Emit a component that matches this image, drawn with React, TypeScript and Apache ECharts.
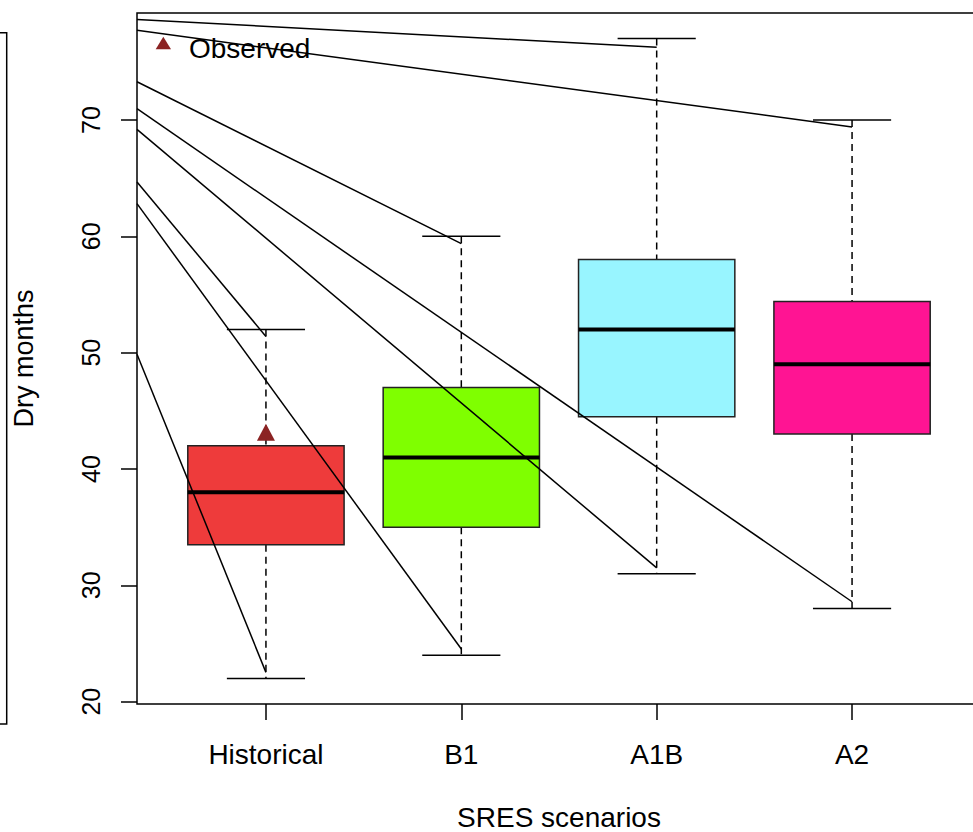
import React, { useEffect, useRef } from 'react';
import * as echarts from 'echarts';

const categories = ['Historical', 'B1', 'A1B', 'A2'];
const whiskerLow = [22, 24, 31, 28];
const q1 = [33.5, 35, 44.5, 43];
const median = [38, 41, 52, 49];
const q3 = [42, 47, 58, 54.4];
const whiskerHigh = [52, 60, 77, 70];
const boxColors = ['#EE3B3B', '#7FFF00', '#98F5FF', '#FF1493'];
const observedValue = [[1, 43.15]];
const yTicks = [20, 30, 40, 50, 60, 70];
const xTicks = [1, 2, 3, 4];
// annotation segments: start at left plot edge, end near a whisker end
const lineFromY = [78.65, 77.71, 73.29, 70.97, 69.2, 64.67, 62.81, 49.87];
const lineToX = [3, 4, 2, 4, 3, 1, 2, 1];
const lineToY = [76.25, 69.4, 59.37, 28.59, 31.5, 51.4, 24.53, 22.52];

const X_MIN = 0.34;
const X_MAX = 4.66;
const Y_MIN = 19.8;
const Y_MAX = 79.2;
const FONT = 'Liberation Sans, Arial, Helvetica, sans-serif';
const OBS_COLOR = '#8B2323';

export default function App() {
  const ref = useRef<HTMLDivElement>(null);
  useEffect(() => {
    if (!ref.current) return;
    const chart = echarts.init(ref.current, null, { renderer: 'svg' });
    const boxData = categories.map((_, i) => [
      i + 1,
      whiskerLow[i],
      q1[i],
      median[i],
      q3[i],
      whiskerHigh[i],
    ]);
    const segs = lineFromY.map((y0, i) => ({
      coords: [
        [X_MIN, y0],
        [lineToX[i], lineToY[i]],
      ],
    }));
    chart.setOption({
      animation: false,
      backgroundColor: '#fff',
      textStyle: { fontFamily: FONT, color: '#000' },
      grid: {
        left: 137,
        top: 13,
        bottom: 128,
        right: -8,
        containLabel: false,
        outerBoundsMode: 'none',
        show: true,
        borderColor: '#000',
        borderWidth: 1.5,
        backgroundColor: 'transparent',
      },
      xAxis: {
        type: 'value',
        min: X_MIN,
        max: X_MAX,
        name: 'SRES scenarios',
        nameLocation: 'middle',
        nameGap: 101,
        nameTextStyle: { fontFamily: FONT, fontSize: 28, lineHeight: 24, color: '#000' },
        axisLine: { show: false },
        splitLine: { show: false },
        axisTick: {
          show: true,
          length: 16,
          customValues: xTicks,
          lineStyle: { color: '#000', width: 1.5 },
        },
        axisLabel: {
          customValues: xTicks,
          margin: 36,
          fontFamily: FONT,
          fontSize: 28,
          color: '#000',
          formatter: (v: number) => categories[Math.round(v) - 1] ?? '',
        },
      },
      yAxis: {
        type: 'value',
        min: Y_MIN,
        max: Y_MAX,
        name: 'Dry months',
        nameLocation: 'middle',
        nameGap: 100,
        nameRotate: 90,
        nameTextStyle: { fontFamily: FONT, fontSize: 27, color: '#000' },
        axisLine: { show: false },
        splitLine: { show: false },
        axisTick: {
          show: true,
          length: 16,
          customValues: yTicks,
          lineStyle: { color: '#000', width: 1.5 },
        },
        axisLabel: {
          customValues: yTicks,
          rotate: 90,
          margin: 34,
          fontFamily: FONT,
          fontSize: 25,
          color: '#000',
        },
      },
      series: [
        {
          type: 'custom',
          name: 'boxes',
          data: boxData,
          encode: { x: 0, y: [1, 2, 3, 4, 5] },
          z: 2,
          renderItem: (params: any, api: any) => {
            const x = api.value(0);
            const lo = api.value(1);
            const a = api.value(2);
            const m = api.value(3);
            const b = api.value(4);
            const hi = api.value(5);
            const color = boxColors[params.dataIndex];
            const c = (xx: number, yy: number) => api.coord([xx, yy]);
            const pHi = c(x, hi);
            const pB = c(x, b);
            const pA = c(x, a);
            const pLo = c(x, lo);
            const capHL = c(x - 0.2, hi);
            const capHR = c(x + 0.2, hi);
            const capLL = c(x - 0.2, lo);
            const capLR = c(x + 0.2, lo);
            const boxTL = c(x - 0.4, b);
            const boxBR = c(x + 0.4, a);
            const medL = c(x - 0.4, m);
            const medR = c(x + 0.4, m);
            const dash = { stroke: '#000', lineWidth: 1.5, lineDash: [7, 5] };
            const solid = { stroke: '#000', lineWidth: 1.5 };
            return {
              type: 'group',
              children: [
                { type: 'line', shape: { x1: pHi[0], y1: pHi[1], x2: pB[0], y2: pB[1] }, style: dash },
                { type: 'line', shape: { x1: pA[0], y1: pA[1], x2: pLo[0], y2: pLo[1] }, style: dash },
                { type: 'line', shape: { x1: capHL[0], y1: capHL[1], x2: capHR[0], y2: capHR[1] }, style: solid },
                { type: 'line', shape: { x1: capLL[0], y1: capLL[1], x2: capLR[0], y2: capLR[1] }, style: solid },
                {
                  type: 'rect',
                  shape: {
                    x: boxTL[0],
                    y: boxTL[1],
                    width: boxBR[0] - boxTL[0],
                    height: boxBR[1] - boxTL[1],
                  },
                  style: { fill: color, stroke: '#222', lineWidth: 1.5 },
                },
                {
                  type: 'line',
                  shape: { x1: medL[0], y1: medL[1], x2: medR[0], y2: medR[1] },
                  style: { stroke: '#000', lineWidth: 4 },
                },
              ],
            };
          },
        },
        {
          type: 'lines',
          coordinateSystem: 'cartesian2d',
          data: segs,
          silent: true,
          z: 3,
          lineStyle: { color: '#000', width: 1.5, opacity: 1, curveness: 0 },
        },
        {
          type: 'scatter',
          name: 'Observed',
          data: observedValue,
          symbol: 'triangle',
          symbolSize: [18, 17],
          itemStyle: { color: OBS_COLOR, opacity: 1 },
          z: 4,
        },
      ],
      graphic: [
        {
          type: 'rect',
          silent: true,
          shape: { x: -10, y: 32.7, width: 16.7, height: 691.3 },
          style: { fill: 'none', stroke: '#000', lineWidth: 1.5 },
        },
        {
          type: 'polygon',
          silent: true,
          z: 10,
          shape: {
            points: [
              [155.7, 49.3],
              [171, 49.3],
              [163.3, 36.7],
            ],
          },
          style: { fill: OBS_COLOR },
        },
        {
          type: 'text',
          silent: true,
          z: 10,
          x: 189,
          y: 48.7,
          style: {
            text: 'Observed',
            fill: '#000',
            font: `28px ${FONT}`,
            verticalAlign: 'middle',
            align: 'left',
          },
        },
      ],
    });
    return () => chart.dispose();
  }, []);
  return (
    <div
      ref={ref}
      style={{ position: 'fixed', left: 0, top: 0, width: 973, height: 832, overflow: 'hidden' }}
    />
  );
}
